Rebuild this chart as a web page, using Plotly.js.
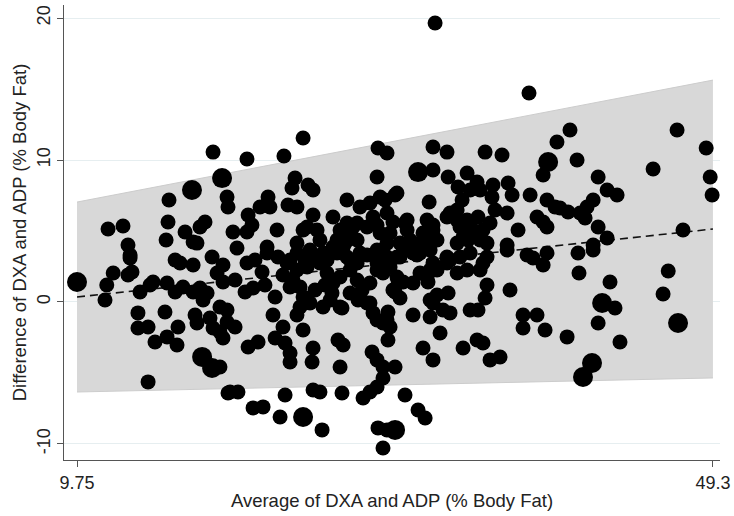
<!DOCTYPE html>
<html><head><meta charset="utf-8">
<script src="https://cdn.plot.ly/plotly-3.0.1.min.js"></script>
<style>html,body{margin:0;padding:0;background:#fff}#chart{width:734px;height:516px}</style>
</head><body><div id="chart"></div>
<script>
// Regular-size points: average (x) and difference (y)
const avgX = [11.49,11.6,12.0,12.92,13.17,13.67,14.29,14.48,15.35,15.85,16.34,16.97,17.4,17.84,17.59,13.54,13.54,14.17,15.22,16.03,14.6,15.35,15.97,17.09,17.21,18.02,18.21,14.17,19.14,18.64,18.83,18.64,19.08,18.46,18.83,16.16,16.97,13.05,15.85,18.21,15.47,15.41,15.29,11.68,12.61,12.92,13.05,16.47,16.97,17.21,17.71,17.4,18.15,19.08,19.14,18.83,
23.81,22.62,20.32,23.31,23.12,24.12,24.43,21.63,21.75,21.13,22.87,23.43,20.39,20.63,20.32,19.45,19.7,22.19,21.57,24.43,24.06,25.67,26.54,28.47,29.03,28.41,27.35,27.97,28.6,28.91,26.11,26.54,26.92,27.79,28.41,25.92,26.42,
20.32,20.82,21.57,22.25,22.81,23.43,23.93,24.55,25.3,25.92,26.54,27.17,27.79,28.41,29.03,29.65,31.65,23.81,24.68,27.17,26.73,28.16,29.03,29.4,30.28,30.28,29.22,31.52,31.89,31.27,32.14,23.43,24.24,24.86,25.05,25.67,26.11,26.3,27.17,27.35,26.73,28.41,28.6,29.03,29.65,30.03,30.46,31.08,30.65,31.71,31.89,31.52,
23.0,23.43,24.06,24.86,25.3,25.67,26.11,26.73,27.17,27.48,27.97,28.41,29.22,29.65,30.03,29.4,29.84,30.65,31.08,23.18,23.62,23.81,23.62,24.24,25.05,25.49,26.11,27.97,28.16,28.41,29.03,29.22,30.65,31.71,31.71,
20.7,23.0,23.93,25.61,26.23,21.94,22.56,23.43,23.81,19.08,19.58,20.39,21.01,22.07,22.69,23.0,23.0,24.43,24.37,25.98,26.3,26.11,28.1,28.41,28.78,28.78,28.41,27.79,28.78,18.64,19.27,19.76,20.7,21.32,22.69,22.38,24.43,24.86,24.99,26.23,27.54,27.97,28.47,29.03,28.78,
19.58,20.2,21.44,22.07,21.26,22.56,24.55,25.17,26.73,27.23,
32.02,37.86,31.89,32.76,35.13,36.18,31.89,32.83,34.01,33.45,34.63,34.82,35.62,36.56,36.81,35.56,37.93,38.74,29.53,33.7,33.39,32.76,33.57,35.75,36.5,34.69,35.0,34.82,37.18,36.5,38.36,38.98,38.98,39.48,30.15,29.84,33.39,34.07,29.84,30.9,32.76,34.2,35.25,37.74,38.11,34.2,32.95,33.39,34.01,34.38,33.76,35.44,35.25,31.89,31.71,31.08,31.71,32.14,32.95,33.57,34.01,33.39,35.0,34.82,38.74,35.25,35.13,36.68,32.14,32.83,31.89,32.51,32.95,34.2,34.69,37.49,38.36,37.49,38.86,32.76,36.5,38.98,28.78,29.71,29.53,31.58,29.09,29.09,32.33,31.27,31.89,33.76,34.63,35.0,35.44,36.06,29.53,30.15,30.96,31.4,
40.41,39.6,40.85,42.16,47.07,48.88,45.58,49.13,49.25,39.79,40.29,42.72,43.34,41.85,41.47,41.04,41.35,42.16,42.72,41.85,38.74,47.44,40.91,41.85,40.97,42.9,46.52,46.2,43.21,42.16,40.23,43.52];
const diffY = [0.14,1.2,2.04,1.9,2.11,0.7,1.2,1.41,1.34,0.7,1.06,0.7,0.99,0.63,0.14,-0.77,-1.83,-1.76,-0.7,-1.76,-2.82,-2.46,-3.03,-0.92,-1.48,-1.13,-1.83,-5.63,-6.41,-2.11,-2.54,-0.35,-0.56,2.04,1.41,2.75,2.61,3.1,2.96,10.56,7.18,5.63,4.37,5.14,5.35,4.01,3.31,4.93,4.23,4.15,5.63,5.28,3.17,7.39,6.69,2.61,
11.55,10.28,10.07,8.73,8.03,8.24,7.89,7.39,6.69,6.69,6.83,6.69,6.13,5.42,4.93,4.93,3.8,5.07,3.87,6.13,5.28,5.99,7.18,10.85,10.49,8.8,6.69,6.97,7.39,7.18,5.07,5.56,5.28,5.28,5.42,4.37,4.15,
2.75,2.96,3.45,3.17,2.75,3.45,2.96,3.17,2.96,3.45,3.17,2.75,3.31,2.75,3.17,7.68,7.04,5.07,5.07,5.56,4.86,5.99,6.27,5.63,5.77,5.07,4.86,5.77,5.42,4.86,4.37,4.15,3.66,4.37,3.45,3.87,4.58,3.87,4.37,3.45,2.96,3.66,4.86,4.15,3.17,3.87,4.37,4.15,3.45,3.66,2.75,1.76,
2.96,2.25,2.46,2.75,2.04,1.34,1.76,2.25,1.55,0.85,1.34,2.25,2.46,1.76,1.41,0.85,0.28,1.34,2.04,1.55,1.06,0.35,-0.35,-0.07,-0.35,0.14,-0.35,-0.07,-0.77,-1.27,-1.27,-1.76,-0.92,0.14,-1.06,
0.99,1.06,0.28,0.63,-0.42,-0.92,-1.76,-0.92,-1.97,-1.41,-1.76,-3.17,-2.82,-2.54,-2.89,-3.59,-4.23,-3.24,-4.23,-2.68,-3.03,-4.58,-3.52,-4.08,-4.58,-5.35,-5.99,-0.07,-1.48,-4.58,-6.34,-6.34,-7.46,-7.39,-6.55,-8.1,-6.2,-6.34,-9.01,-6.41,-6.76,-6.34,-8.87,-9.01,-10.28,
1.55,0.7,1.2,0.35,2.11,1.9,0.85,1.2,0.63,0.14,
19.65,14.72,10.92,10.56,10.56,10.35,9.3,8.8,9.08,8.1,8.45,7.89,8.24,8.38,7.54,7.39,7.54,8.94,7.54,7.18,6.48,5.99,5.28,6.48,6.27,5.99,5.07,4.37,5.07,4.01,5.99,5.28,7.18,6.69,5.56,4.15,4.15,4.37,3.17,3.31,3.17,3.45,3.17,3.31,3.1,7.89,6.27,5.77,5.77,5.07,4.58,5.56,4.15,5.07,4.58,3.45,2.25,2.25,2.96,3.17,2.25,2.04,2.75,2.25,2.61,1.2,0.28,0.85,0.49,0.63,-0.07,-0.56,-0.77,-0.56,-0.56,-0.92,-0.92,-1.83,-1.97,2.75,3.66,3.45,2.04,1.55,0.7,1.41,-0.7,-2.68,-2.18,-3.24,-4.08,-3.24,-2.68,-2.89,-4.08,-3.87,-4.58,-6.55,-7.61,-8.17,
12.11,11.27,10.0,8.8,12.11,10.85,9.37,8.8,7.54,6.62,6.34,7.89,7.54,7.18,6.69,6.27,5.92,5.28,4.51,4.01,5.63,5.07,3.45,3.66,2.04,1.41,2.18,0.56,-0.42,-1.48,-2.46,-2.82];
// Larger points
const bigX = [9.75,17.53,18.15,18.77,16.9,23.81,30.96,39.05,29.53,42.41,47.13,41.78,41.22];
const bigY = [1.41,-3.87,-4.65,8.73,7.89,-8.1,9.15,9.86,-9.01,-0.07,-1.48,-4.3,-5.28];
// Limits of agreement band and regression (mean difference) line
const lineX = [9.75, 49.3];
const upperLoA = [7.04, 15.63];
const lowerLoA = [-6.34, -5.35];
const meanDiff = [0.35, 5.14];
const xTickVals = [9.75, 49.3];
const xTickText = ['9.75', '49.3'];
const yTickVals = [-10, 0, 10, 20];
const yTickText = ['-10', '0', '10', '20'];

const traces = [
  {x: lineX, y: lowerLoA, mode: 'lines', line: {color: '#cccccc', width: 1}, hoverinfo: 'skip', showlegend: false},
  {x: lineX, y: upperLoA, mode: 'lines', fill: 'tonexty', fillcolor: '#d8d8d8', line: {color: '#cccccc', width: 1}, hoverinfo: 'skip', showlegend: false},
  {x: lineX, y: meanDiff, mode: 'lines', line: {color: '#111', width: 1.6, dash: '8px,5px'}, showlegend: false},
  {x: avgX, y: diffY, mode: 'markers', marker: {color: '#000', size: 15, line: {width: 0}}, showlegend: false},
  {x: bigX, y: bigY, mode: 'markers', marker: {color: '#000', size: 20, line: {width: 0}}, showlegend: false}
];
const fnt = {family: '"Liberation Sans", Arial, Helvetica, sans-serif', color: '#222'};
const layout = {
  width: 734, height: 516,
  margin: {l: 64, r: 14, t: 5, b: 56},
  paper_bgcolor: '#fff', plot_bgcolor: '#fff',
  font: Object.assign({size: 17}, fnt),
  xaxis: {
    range: [8.94, 49.74], tickvals: xTickVals, ticktext: xTickText,
    showline: true, linecolor: '#555', linewidth: 1, ticks: 'outside', ticklen: 6, tickcolor: '#555',
    showgrid: false, zeroline: false, tickfont: Object.assign({size: 18}, fnt),
    title: {text: 'Average of DXA and ADP (% Body Fat)', font: Object.assign({size: 18.5}, fnt), standoff: 2}
  },
  yaxis: {
    range: [-11.13, 20.92], tickvals: yTickVals, ticktext: yTickText, tickangle: -90,
    showline: true, linecolor: '#555', linewidth: 1, ticks: 'outside', ticklen: 6, tickcolor: '#555',
    showgrid: true, gridcolor: '#e6eef0', gridwidth: 1, zeroline: false, tickfont: Object.assign({size: 18}, fnt),
    title: {text: 'Difference of DXA and ADP (% Body Fat)', font: Object.assign({size: 18.5}, fnt), standoff: 2}
  }
};
Plotly.newPlot('chart', traces, layout, {displayModeBar: false, staticPlot: true});
</script></body></html>
